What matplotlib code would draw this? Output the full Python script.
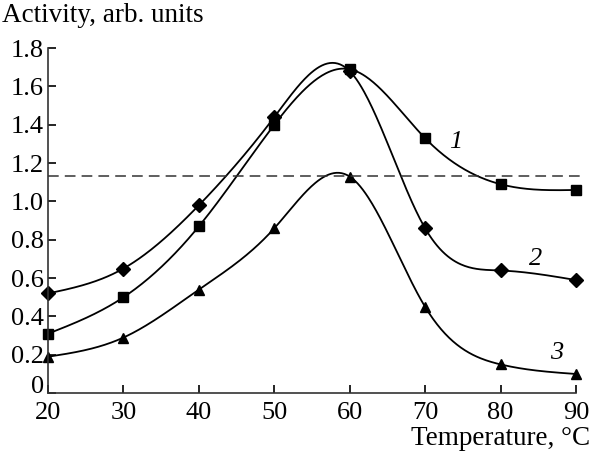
import numpy as np
import matplotlib
matplotlib.use('Agg')
import matplotlib.pyplot as plt

plt.rcParams['font.family'] = ['Liberation Serif', 'DejaVu Serif']

# data
temp = [20, 30, 40, 50, 60, 70, 80, 90]
act1 = [0.31, 0.50, 0.87, 1.40, 1.69, 1.33, 1.09, 1.06]   # squares
act2 = [0.52, 0.65, 0.98, 1.44, 1.68, 0.86, 0.64, 0.59]   # diamonds
act3 = [0.19, 0.29, 0.54, 0.86, 1.13, 0.45, 0.15, 0.10]   # triangles
ref_level = 1.135
yticks = [0, 0.2, 0.4, 0.6, 0.8, 1.0, 1.2, 1.4, 1.6, 1.8]
ytick_labels = ['0', '0.2', '0.4', '0.6', '0.8', '1.0', '1.2', '1.4', '1.6', '1.8']
xticks = [20, 30, 40, 50, 60, 70, 80, 90]


def natural_spline(x, y, xs):
    # plain natural cubic spline, no scipy here
    x = np.asarray(x, float)
    y = np.asarray(y, float)
    n = len(x)
    h = np.diff(x)
    A = np.zeros((n, n))
    b = np.zeros(n)
    A[0, 0] = 1
    A[-1, -1] = 1
    for i in range(1, n - 1):
        A[i, i - 1] = h[i - 1]
        A[i, i] = 2 * (h[i - 1] + h[i])
        A[i, i + 1] = h[i]
        b[i] = 3 * ((y[i + 1] - y[i]) / h[i] - (y[i] - y[i - 1]) / h[i - 1])
    c = np.linalg.solve(A, b)
    bb = np.zeros(n - 1)
    d = np.zeros(n - 1)
    for i in range(n - 1):
        bb[i] = (y[i + 1] - y[i]) / h[i] - h[i] * (2 * c[i] + c[i + 1]) / 3
        d[i] = (c[i + 1] - c[i]) / (3 * h[i])
    idx = np.clip(np.searchsorted(x, xs) - 1, 0, n - 2)
    dx = xs - x[idx]
    return y[idx] + bb[idx] * dx + c[idx] * dx ** 2 + d[idx] * dx ** 3


fig = plt.figure(figsize=(5.92, 4.54), dpi=100)
ax = fig.add_axes([0.081, 0.134, 0.892, 0.76])

xs = np.linspace(temp[0], temp[-1], 400)
for vals, mk, ms in [(act1, 's', 7.5), (act2, 'D', 6.8), (act3, '^', 7.5)]:
    ax.plot(xs, natural_spline(temp, vals, xs), color='black', lw=1.3, clip_on=False)
    ax.plot(temp, vals, linestyle='none', marker=mk, ms=ms, color='black', clip_on=False)

ax.plot([20, 90.5], [ref_level, ref_level], color='#333333', lw=1.1,
        dashes=(7, 4), clip_on=False)

ax.text(74.0, 1.31, '1', fontsize=19, style='italic', ha='center', va='center')
ax.text(84.6, 0.70, '2', fontsize=19, style='italic', ha='center', va='center')
ax.text(87.4, 0.21, '3', fontsize=19, style='italic', ha='center', va='center')

ax.set_xlim(20, 90)
ax.set_ylim(0, 1.8)
ax.set_xticks(xticks)
ax.set_yticks(yticks)
ax.set_yticklabels(ytick_labels)
ax.tick_params(direction='in', length=6, width=1.2, labelsize=19, colors='black')
ax.tick_params(axis='y', pad=3)
ax.tick_params(axis='x', pad=6.5)
# the "0" sits just above the x axis in the original
ax.get_yticklabels()[0].set_va('baseline')
for s in ['top', 'right']:
    ax.spines[s].set_visible(False)
for s in ['left', 'bottom']:
    ax.spines[s].set_linewidth(1.2)
    ax.spines[s].set_color('#333333')

fig.text(0.003, 0.965, 'Activity, arb. units', fontsize=19.5, ha='left', va='center')
fig.text(0.997, 0.02, 'Temperature, °C', fontsize=19.5, ha='right', va='baseline')

fig.savefig('out.png', dpi=100)
